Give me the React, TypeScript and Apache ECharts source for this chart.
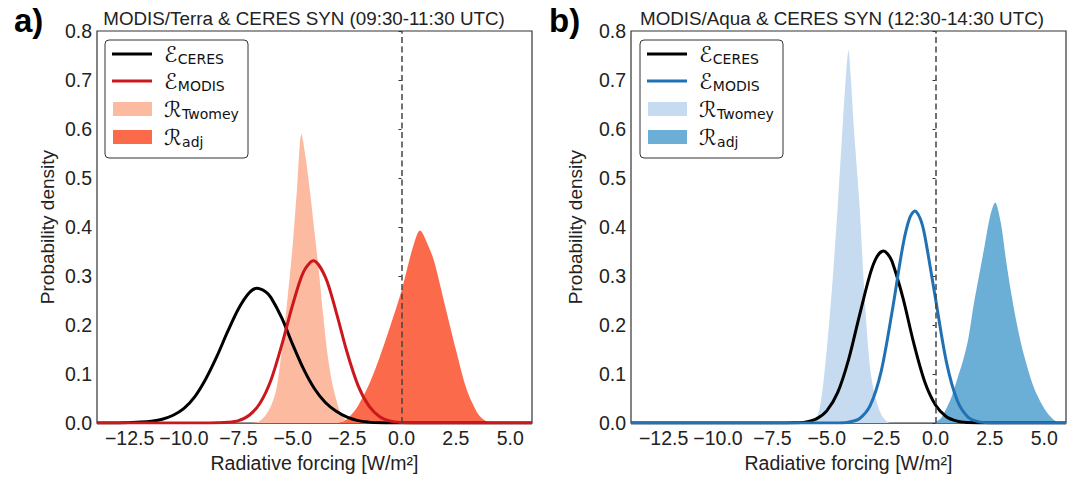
import React, { useEffect, useRef } from "react";
import * as echarts from "echarts";

const FONT = "'Liberation Sans', Arial, Helvetica, sans-serif";

const xTicks = [-12.5, -10, -7.5, -5, -2.5, 0, 2.5, 5];

const titles = [
  "MODIS/Terra & CERES SYN (09:30-11:30 UTC)",
  "MODIS/Aqua & CERES SYN (12:30-14:30 UTC)",
];
const panelLetters = ["a)", "b)"];
const legendSubs = ["CERES", "MODIS", "Twomey", "adj"];
const legendMains = ["\u2130", "\u2130", "\u211B", "\u211B"];

// Panel a) MODIS/Terra
const ceresTerra: [number, number][] = [
  [-14, 0], [-13.5, 0], [-13, 0.0003], [-12.5, 0.001], [-12, 0.002], [-11.5, 0.004],
  [-11, 0.008], [-10.5, 0.016], [-10, 0.03], [-9.5, 0.054], [-9, 0.09], [-8.5, 0.135],
  [-8, 0.186], [-7.5, 0.233], [-7, 0.266], [-6.65, 0.275], [-6.25, 0.268], [-6, 0.256],
  [-5.5, 0.214], [-5, 0.16], [-4.5, 0.11], [-4, 0.07], [-3.5, 0.042], [-3, 0.024],
  [-2.5, 0.012], [-2, 0.005], [-1.5, 0.002], [-1, 0.0005], [-0.5, 0], [0, 0], [6, 0],
];
const modisTerra: [number, number][] = [
  [-14, 0], [-10, 0], [-9, 0], [-8.5, 0.0005], [-8, 0.0015], [-7.5, 0.005], [-7, 0.016],
  [-6.5, 0.041], [-6, 0.088], [-5.5, 0.16], [-5, 0.242], [-4.5, 0.309], [-4.05, 0.331],
  [-3.5, 0.298], [-3, 0.226], [-2.5, 0.144], [-2, 0.077], [-1.5, 0.035], [-1, 0.013],
  [-0.5, 0.004], [0, 0.001], [0.5, 0], [1, 0], [6, 0],
];
const twomeyTerra: [number, number][] = [
  [-14, 0], [-7, 0], [-6.75, 0.001], [-6.5, 0.005], [-6.25, 0.016], [-6, 0.035],
  [-5.75, 0.07], [-5.5, 0.15], [-5.25, 0.25], [-5, 0.365], [-4.8, 0.48], [-4.6, 0.59],
  [-4.4, 0.54], [-4.2, 0.47], [-4, 0.39], [-3.8, 0.31], [-3.6, 0.22], [-3.4, 0.14],
  [-3.2, 0.085], [-3, 0.048], [-2.8, 0.02], [-2.6, 0.008], [-2.4, 0.002], [-2.2, 0], [6, 0],
];
const adjTerra: [number, number][] = [
  [-14, 0], [-3, 0], [-2.75, 0.002], [-2.5, 0.008], [-2.25, 0.02], [-2, 0.035],
  [-1.5, 0.078], [-1, 0.135], [-0.5, 0.2], [0, 0.27], [0.5, 0.355], [0.85, 0.393],
  [1.25, 0.36], [1.5, 0.33], [2, 0.24], [2.5, 0.15], [3, 0.068], [3.5, 0.02],
  [3.75, 0.008], [4, 0.002], [4.25, 0], [6, 0],
];

// Panel b) MODIS/Aqua
const ceresAqua: [number, number][] = [
  [-14, 0], [-8, 0], [-7.5, 0], [-7, 0.0001], [-6.5, 0.0005], [-6, 0.002], [-5.5, 0.008],
  [-5, 0.025], [-4.5, 0.062], [-4, 0.129], [-3.5, 0.219], [-3, 0.305], [-2.7, 0.339],
  [-2.4, 0.351], [-2.2, 0.345], [-2, 0.33], [-1.5, 0.256], [-1, 0.163], [-0.5, 0.085],
  [0, 0.037], [0.5, 0.013], [1, 0.004], [1.5, 0.001], [2, 0], [6, 0],
];
const modisAqua: [number, number][] = [
  [-14, 0], [-5, 0], [-4.5, 0.0002], [-4, 0.0018], [-3.5, 0.009], [-3, 0.036],
  [-2.5, 0.105], [-2, 0.226], [-1.5, 0.362], [-1.2, 0.417], [-0.95, 0.433], [-0.7, 0.417],
  [-0.5, 0.384], [0, 0.254], [0.5, 0.125], [1, 0.046], [1.5, 0.012], [2, 0.0025],
  [2.5, 0.0004], [3, 0], [6, 0],
];
const twomeyAqua: [number, number][] = [
  [-14, 0], [-6, 0], [-5.75, 0.0005], [-5.5, 0.005], [-5.25, 0.05], [-5, 0.15],
  [-4.75, 0.28], [-4.5, 0.44], [-4.25, 0.62], [-4.1, 0.72], [-4, 0.76], [-3.9, 0.71],
  [-3.75, 0.6], [-3.5, 0.45], [-3.25, 0.25], [-3, 0.11], [-2.75, 0.05], [-2.5, 0.018],
  [-2.25, 0.004], [-2, 0], [6, 0],
];
const adjAqua: [number, number][] = [
  [-14, 0], [-0.25, 0], [0, 0.003], [0.25, 0.01], [0.5, 0.03], [0.75, 0.055], [1, 0.09],
  [1.25, 0.125], [1.5, 0.17], [1.75, 0.24], [2, 0.3], [2.25, 0.36], [2.5, 0.42],
  [2.74, 0.45], [3, 0.41], [3.25, 0.33], [3.5, 0.26], [3.75, 0.2], [4, 0.15], [4.25, 0.11],
  [4.5, 0.075], [4.75, 0.05], [5, 0.03], [5.25, 0.015], [5.5, 0.005], [5.75, 0.001], [6, 0],
];

const panels = [
  {
    ceres: ceresTerra, modis: modisTerra, twomey: twomeyTerra, adj: adjTerra,
    colors: { ceres: "#000000", modis: "#cb181d", twomey: "#fcbba1", adj: "#fb6a4a" },
    gridLeft: 97, titleX: 304, letterX: 14, legendX: 105, yNameGap: 40,
  },
  {
    ceres: ceresAqua, modis: modisAqua, twomey: twomeyAqua, adj: adjAqua,
    colors: { ceres: "#000000", modis: "#2171b5", twomey: "#c6dbef", adj: "#6baed6" },
    gridLeft: 631, titleX: 842, letterX: 549, legendX: 640, yNameGap: 46,
  },
];

const GRID_TOP = 31;
const GRID_W = 435;
const GRID_H = 396;

const MAIN_FONT = "22px 'DejaVu Sans', sans-serif";
const SUB_FONT = "14px 'DejaVu Sans', sans-serif";

function fmtX(v: number) {
  return (v < 0 ? "\u2212" : "") + Math.abs(v).toFixed(1);
}

function measure(text: string, font: string) {
  const c = document.createElement("canvas").getContext("2d");
  if (!c) return 16;
  c.font = font;
  return c.measureText(text).width;
}

function buildLegend(p: any) {
  const x0 = p.legendX;
  const y0 = 40;
  const children: any[] = [
    {
      type: "rect",
      shape: { x: x0, y: y0, width: 143, height: 118, r: 4 },
      style: { fill: "#ffffff", stroke: "#333333", lineWidth: 1 },
    },
  ];
  const rows = [54, 81, 109, 137];
  const cols = [p.colors.ceres, p.colors.modis, p.colors.twomey, p.colors.adj];
  rows.forEach((ry, i) => {
    if (i < 2) {
      children.push({
        type: "line",
        shape: { x1: x0 + 7, y1: ry, x2: x0 + 47, y2: ry },
        style: { stroke: cols[i], lineWidth: 3.2 },
      });
    } else {
      children.push({
        type: "rect",
        shape: { x: x0 + 8, y: ry - 7, width: 39, height: 14 },
        style: { fill: cols[i] },
      });
    }
    const mw = measure(legendMains[i], MAIN_FONT);
    children.push({
      type: "text",
      x: x0 + 59,
      y: ry,
      style: {
        text: legendMains[i],
        font: MAIN_FONT,
        fill: "#111",
        verticalAlign: "middle",
        align: "left",
      },
    });
    children.push({
      type: "text",
      x: x0 + 59 + mw + 0.5,
      y: ry + 5,
      style: {
        text: legendSubs[i],
        font: SUB_FONT,
        fill: "#111",
        verticalAlign: "middle",
        align: "left",
      },
    });
  });
  return { type: "group", children, z: 100 };
}

export default function App() {
  const ref = useRef<HTMLDivElement>(null);
  useEffect(() => {
    if (!ref.current) return;
    const chart = echarts.init(ref.current, undefined, { renderer: "svg" });
    const grid: any[] = [];
    const xAxis: any[] = [];
    const yAxis: any[] = [];
    const series: any[] = [];
    const graphic: any[] = [];
    panels.forEach((p, i) => {
      grid.push({
        left: p.gridLeft, top: GRID_TOP, width: GRID_W, height: GRID_H,
        show: true, borderColor: "#333333", borderWidth: 1.2, backgroundColor: "transparent",
      });
      xAxis.push({
        type: "value", gridIndex: i, min: -14, max: 6,
        axisLine: { show: false }, axisTick: { show: false }, splitLine: { show: false },
        axisLabel: {
          customValues: xTicks, formatter: (v: number) => fmtX(v),
          fontSize: 19.5, color: "#222", margin: 5, fontFamily: FONT,
        },
        name: "Radiative forcing [W/m\u00B2]", nameLocation: "middle", nameGap: 27,
        nameTextStyle: { fontSize: 19.5, color: "#222", fontFamily: FONT },
      });
      yAxis.push({
        type: "value", gridIndex: i, min: 0, max: 0.8, interval: 0.1,
        axisLine: { show: false },
        axisTick: { show: true, length: 3, lineStyle: { color: "#333", width: 1 } },
        splitLine: { show: false },
        axisLabel: {
          formatter: (v: number) => v.toFixed(1),
          fontSize: 19.5, color: "#222", margin: 5, fontFamily: FONT,
        },
        name: "Probability density", nameLocation: "middle", nameGap: p.yNameGap, nameRotate: 90,
        nameTextStyle: { fontSize: 19, color: "#222", fontFamily: FONT },
      });
      const common = { xAxisIndex: i, yAxisIndex: i, showSymbol: false, symbol: "none", smooth: 0.3, silent: true, clip: true };
      series.push({
        ...common, type: "line", name: "Twomey" + i, data: p.twomey, z: 1,
        lineStyle: { width: 0 }, areaStyle: { color: p.colors.twomey, opacity: 1 }, itemStyle: { color: p.colors.twomey },
      });
      series.push({
        ...common, type: "line", name: "adj" + i, data: p.adj, z: 1,
        lineStyle: { width: 0 }, areaStyle: { color: p.colors.adj, opacity: 1 }, itemStyle: { color: p.colors.adj },
      });
      series.push({
        ...common, type: "line", name: "zero" + i, data: [], z: 2,
        markLine: {
          silent: true, symbol: ["none", "none"], label: { show: false },
          lineStyle: { type: [6, 3.5], color: "#444", width: 1.5 },
          data: [{ xAxis: 0 }],
        },
      });
      series.push({
        ...common, type: "line", name: "CERES" + i, data: p.ceres, z: 3,
        lineStyle: { width: 3, color: p.colors.ceres }, itemStyle: { color: p.colors.ceres },
      });
      series.push({
        ...common, type: "line", name: "MODIS" + i, data: p.modis, z: 4,
        lineStyle: { width: 3, color: p.colors.modis }, itemStyle: { color: p.colors.modis },
      });
      graphic.push({
        type: "text", x: p.titleX, y: 18,
        style: { text: titles[i], font: "18.8px " + FONT, fill: "#222", align: "center", verticalAlign: "middle" },
      });
      graphic.push({
        type: "text", x: p.letterX, y: 20,
        style: { text: panelLetters[i], font: "bold 33px " + FONT, fill: "#000", align: "left", verticalAlign: "middle" },
      });
      graphic.push(buildLegend(p));
    });
    chart.setOption({
      animation: false,
      backgroundColor: "#ffffff",
      grid, xAxis, yAxis, series, graphic,
    });
    return () => chart.dispose();
  }, []);
  return (
    <div
      ref={ref}
      style={{ position: "absolute", left: 0, top: 0, width: 1076, height: 478 }}
    />
  );
}
